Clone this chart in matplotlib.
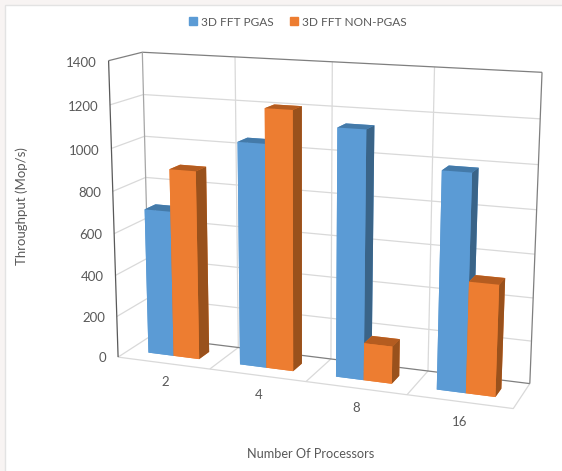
import numpy as np
import matplotlib
matplotlib.use('Agg')
import matplotlib.pyplot as plt
from matplotlib.patches import Patch, Rectangle
from mpl_toolkits.mplot3d import proj3d

plt.rcParams['font.family'] = ['Lato', 'DejaVu Sans']

processors = ['2', '4', '8', '16']
pgas = [700, 1050, 1145, 990]
non_pgas = [900, 1210, 175, 510]
z_ticks = [0, 200, 400, 600, 800, 1000, 1200, 1400]

BLUE = ['#5B9BD5', '#447AA9', '#5B9BD5', '#5B9BD5', '#5B9BD5', '#3A6488']
ORANGE = ['#ED7D31', '#B45C20', '#ED7D31', '#ED7D31', '#ED7D31', '#99511C']
TEXT = '#595959'
GRID = '#D9D9D9'
DARK = '#7F7F7F'

W, H = 562, 471
fig = plt.figure(figsize=(W / 100, H / 100), dpi=100, facecolor='#F8F4F3')
fig.add_artist(Rectangle((5 / W, -0.01), 1, (H - 5) / H + 0.01, transform=fig.transFigure,
                         fc='white', ec='#E3E3E3', lw=1, zorder=-1))

# camera fitted to the frame of the reference
ax = fig.add_axes([0.09701, -0.03325, 0.91685, 1.09399], projection='3d', computed_zorder=False)
ax.view_init(elev=13.714, azim=-69.724, roll=-0.148)
ax.set_proj_type('persp', focal_length=0.519)
ax.set_box_aspect((1.3533, 0.2356, 1))
n = len(processors)
ax.set_xlim(0, n)
ax.set_ylim(0, 1)
ax.set_zlim(0, z_ticks[-1])
ax.set_xticks([])
ax.set_yticks([])
ax.set_zticks([])
ax.set_axis_off()
ax.patch.set_visible(False)


def line(xs, ys, zs, color=GRID, lw=0.9, z=1):
    ax.plot(xs, ys, zs, color=color, lw=lw, zorder=z, solid_capstyle='butt')


def label(x, y, z, s, ha):
    # 3D text keeps its raw coordinates, so project it and put it on the figure
    x2, y2, _ = proj3d.proj_transform(x, y, z, ax.get_proj())
    fx, fy = fig.transFigure.inverted().transform(ax.transData.transform((x2, y2)))
    fig.text(fx, fy, s, ha=ha, va='center', fontsize=9.5, color=TEXT)


# walls and floor
top = z_ticks[-1]
for v in z_ticks[1:-1]:
    line([0, 0, n], [0, 1, 1], [v, v, v])
for i in range(1, n):
    line([i, i, i], [0, 1, 1], [0, 0, top])
line([0, 0], [0, 1], [0, 0])
line([0, n, n], [0, 0, 1], [0, 0, 0])
line([0, 0, n], [0, 1, 1], [top, top, top], DARK, 0.9, 2)
line([0, 0], [0, 0], [0, top], '#595959', 0.9, 2)
line([0, 0], [1, 1], [0, top], '#A6A6A6', 0.9, 2)
line([n, n], [1, 1], [0, top], DARK, 0.9, 2)
line([0, n], [1, 1], [0, 0], DARK, 0.9, 2)

# bars, drawn from the far left to the near right
bar_w = 0.28
order = 10
for i in range(n):
    ax.bar3d(i + 0.22, 0.33, 0, bar_w, 0.34, pgas[i], color=BLUE, shade=False, linewidth=0, zorder=order)
    ax.bar3d(i + 0.5, 0.33, 0, bar_w, 0.34, non_pgas[i], color=ORANGE, shade=False, linewidth=0, zorder=order + 1)
    order += 2

for v in z_ticks:
    label(-0.13, 0, v - 14, str(v), 'right')
for i, name in enumerate(processors):
    label(i * 0.953 + 0.79, -0.8, 14, name, 'center')

fig.text(311 / W, 1 - 454 / H, 'Number Of Processors', ha='center', va='center', fontsize=9.2, color=TEXT)
fig.text(22 / W, 1 - 206 / H, 'Throughput (Mop/s)', rotation=90, ha='center', va='center', fontsize=9.5, color=TEXT)

handles = [Patch(color=BLUE[0], label='3D FFT PGAS'), Patch(color=ORANGE[0], label='3D FFT NON-PGAS')]
fig.legend(handles=handles, ncols=2, loc='center', bbox_to_anchor=(298 / W, 1 - 22 / H), frameon=False,
           fontsize=8.6, labelcolor=TEXT, handlelength=0.67, handleheight=0.6, handletextpad=0.3,
           columnspacing=1.42, borderpad=0)

fig.savefig('out.png', dpi=100, facecolor=fig.get_facecolor())
